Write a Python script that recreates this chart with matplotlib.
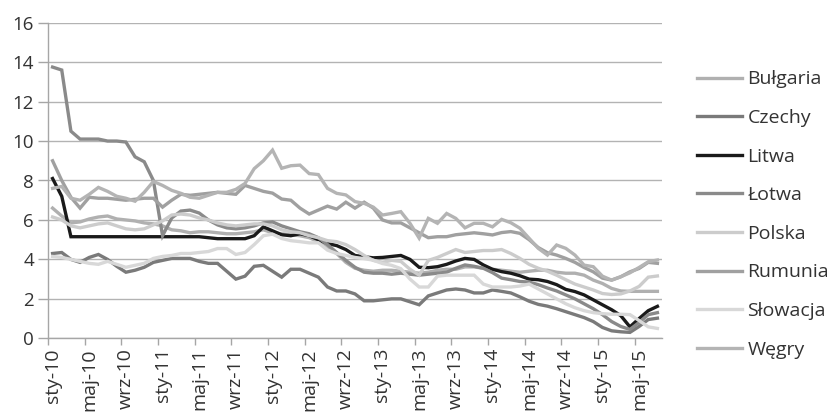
import matplotlib
matplotlib.use("Agg")
import matplotlib.pyplot as plt
from matplotlib.ticker import FixedLocator

plt.rcParams['font.family'] = ['Open Sans', 'DejaVu Sans']

# Monthly data: Jan 2010 (sty-10) .. Jul 2015 (67 months)
tick_labels = ['sty-10', 'maj-10', 'wrz-10', 'sty-11', 'maj-11', 'wrz-11',
               'sty-12', 'maj-12', 'wrz-12', 'sty-13', 'maj-13', 'wrz-13',
               'sty-14', 'maj-14', 'wrz-14', 'sty-15', 'maj-15']

bulgaria = [6.6, 6.2, 5.85, 5.9, 6.05, 6.15, 6.2, 6.05, 6.0, 5.95, 5.85, 5.8,
            5.7, 5.5, 5.45, 5.35, 5.4, 5.4, 5.35, 5.3, 5.3, 5.35, 5.4, 5.5,
            5.35, 5.3, 5.25, 5.2, 5.1, 4.9, 4.6, 4.3, 3.85, 3.55, 3.45, 3.4,
            3.45, 3.45, 3.4, 3.35, 3.3, 3.35, 3.45, 3.5, 3.5, 3.62, 3.62, 3.55,
            3.5, 3.45, 3.4, 3.35, 3.4, 3.45, 3.45, 3.35, 3.3, 3.3, 3.2, 2.95,
            2.78, 2.53, 2.4, 2.38, 2.38, 2.38, 2.38]
czechy = [4.3, 4.35, 4.0, 3.85, 4.1, 4.25, 4.0, 3.65, 3.35, 3.45, 3.6, 3.85,
          3.95, 4.05, 4.05, 4.05, 3.9, 3.8, 3.8, 3.4, 3.0, 3.15, 3.65, 3.7,
          3.4, 3.1, 3.5, 3.5, 3.3, 3.1, 2.6, 2.4, 2.4, 2.25, 1.9, 1.9,
          1.95, 2.0, 2.0, 1.85, 1.7, 2.15, 2.3, 2.45, 2.5, 2.45, 2.3, 2.3,
          2.45, 2.38, 2.3, 2.1, 1.88, 1.72, 1.63, 1.5, 1.35, 1.2, 1.05, 0.85,
          0.55, 0.38, 0.33, 0.3, 0.6, 0.95, 1.02]
litwa = [8.1, 7.2, 5.15, 5.15, 5.15, 5.15, 5.15, 5.15, 5.15, 5.15, 5.15, 5.15,
         5.15, 5.15, 5.15, 5.15, 5.15, 5.1, 5.05, 5.05, 5.05, 5.05, 5.2, 5.65,
         5.45, 5.25, 5.2, 5.3, 5.2, 5.0, 4.8, 4.7, 4.5, 4.2, 4.13, 4.08,
         4.1, 4.15, 4.2, 4.0, 3.6, 3.58, 3.63, 3.75, 3.92, 4.05, 4.0, 3.72,
         3.5, 3.38, 3.3, 3.17, 3.0, 2.97, 2.88, 2.72, 2.48, 2.37, 2.2, 1.95,
         1.7, 1.45, 1.15, 0.58, 1.0, 1.4, 1.62]
lotwa = [13.75, 13.6, 10.5, 10.1, 10.1, 10.1, 10.0, 10.0, 9.95, 9.2, 8.95, 8.0,
         5.2, 6.1, 6.45, 6.5, 6.35, 6.0, 5.75, 5.6, 5.55, 5.6, 5.7, 5.85,
         5.9, 5.7, 5.55, 5.4, 5.3, 5.1, 4.75, 4.35, 3.95, 3.6, 3.35, 3.3,
         3.3, 3.25, 3.3, 3.25, 3.2, 3.25, 3.3, 3.35, 3.55, 3.72, 3.65, 3.55,
         3.33, 3.05, 2.97, 2.88, 2.85, 2.72, 2.55, 2.4, 2.2, 2.0, 1.75, 1.5,
         1.2, 0.85, 0.6, 0.45, 0.8, 1.2, 1.3]
polska = [6.15, 6.0, 5.7, 5.6, 5.7, 5.8, 5.85, 5.7, 5.55, 5.5, 5.55, 5.75,
          5.95, 6.25, 6.3, 6.25, 6.1, 6.0, 5.85, 5.75, 5.7, 5.75, 5.8, 5.8,
          5.7, 5.5, 5.4, 5.35, 5.2, 5.1, 4.95, 4.9, 4.75, 4.5, 4.2, 3.95,
          3.85, 3.95, 3.9, 3.5, 3.2, 3.95, 4.1, 4.3, 4.5, 4.35, 4.4, 4.45,
          4.45, 4.5, 4.3, 4.05, 3.75, 3.55, 3.4, 3.2, 2.97, 2.75, 2.6, 2.45,
          2.27, 2.22, 2.25, 2.4, 2.63, 3.1, 3.16]
rumunia = [9.0, 8.0, 7.15, 6.6, 7.15, 7.1, 7.1, 7.05, 7.0, 7.05, 7.1, 7.1,
           6.65, 7.0, 7.3, 7.25, 7.3, 7.35, 7.4, 7.35, 7.3, 7.75, 7.6, 7.45,
           7.36, 7.06, 7.0, 6.6, 6.3, 6.5, 6.7, 6.55, 6.9, 6.6, 6.9, 6.6,
           6.0, 5.85, 5.85, 5.6, 5.35, 5.1, 5.15, 5.15, 5.25, 5.3, 5.35, 5.3,
           5.24, 5.36, 5.41, 5.32, 5.0, 4.6, 4.34, 4.22, 4.05, 3.85, 3.59, 3.37,
           3.05, 2.95, 3.12, 3.37, 3.54, 3.85, 3.8]
slowacja = [4.15, 4.1, 4.0, 3.9, 3.8, 3.75, 3.9, 3.75, 3.6, 3.7, 3.8, 4.05,
            4.15, 4.2, 4.3, 4.3, 4.35, 4.4, 4.55, 4.55, 4.25, 4.35, 4.75, 5.2,
            5.28, 5.06, 4.95, 4.9, 4.84, 4.84, 4.47, 4.3, 4.2, 4.1, 4.04, 3.96,
            3.79, 3.7, 3.53, 3.0, 2.6, 2.6, 3.15, 3.2, 3.2, 3.2, 3.2, 2.75,
            2.6, 2.6, 2.6, 2.65, 2.75, 2.5, 2.25, 2.0, 1.75, 1.55, 1.4, 1.3,
            1.25, 1.22, 1.22, 1.2, 0.9, 0.58, 0.5]
wegry = [7.6, 7.7, 7.1, 7.0, 7.3, 7.65, 7.45, 7.2, 7.1, 6.95, 7.4, 7.95,
         7.75, 7.5, 7.35, 7.15, 7.1, 7.25, 7.4, 7.4, 7.55, 7.85, 8.6, 9.0,
         9.54, 8.62, 8.75, 8.78, 8.35, 8.3, 7.6, 7.35, 7.27, 6.93, 6.84, 6.65,
         6.25, 6.33, 6.42, 5.83, 5.08, 6.08, 5.83, 6.33, 6.08, 5.6, 5.83, 5.83,
         5.65, 6.03, 5.86, 5.58, 5.07, 4.56, 4.22, 4.73, 4.56, 4.22, 3.71, 3.63,
         3.15, 2.95, 3.12, 3.32, 3.59, 3.88, 3.97]

series = [
    ('Bułgaria', bulgaria, '#b0b0b0'),
    ('Czechy', czechy, '#7a7a7a'),
    ('Litwa', litwa, '#1a1a1a'),
    ('Łotwa', lotwa, '#8a8a8a'),
    ('Polska', polska, '#cccccc'),
    ('Rumunia', rumunia, '#a0a0a0'),
    ('Słowacja', slowacja, '#d8d8d8'),
    ('Węgry', wegry, '#b4b4b4'),
]

fig = plt.figure(figsize=(8.31, 4.15), dpi=100)
ax = fig.add_axes([48/831, 1-338.3/415, (662-48)/831, (338.3-22.7)/415])

n = len(litwa)
x = list(range(n))
for name, vals, col in series:
    ax.plot(x, vals, color=col, lw=2.4, label=name, solid_joinstyle='miter')

ax.set_xlim(-0.5, n - 0.5)
ax.set_ylim(0, 16)
ax.set_yticks(range(0, 17, 2))
ax.yaxis.grid(True, color='#b3b3b3', lw=1.0)
ax.set_axisbelow(True)

label_pos = list(range(0, n, 4))
ax.set_xticks(label_pos)
ax.set_xticklabels(tick_labels, rotation=90)
ax.tick_params(axis='x', which='major', length=0, pad=7, labelsize=14, labelcolor='#333333')
ax.xaxis.set_minor_locator(FixedLocator([p - 0.5 for p in label_pos]))
ax.tick_params(axis='x', which='minor', length=5, width=1, color='#a6a6a6', direction='out')
ax.tick_params(axis='y', length=7, width=1, color='#a6a6a6', labelsize=13.5, labelcolor='#333333', pad=3)

for s in ['top', 'right']:
    ax.spines[s].set_visible(False)
for s in ['left', 'bottom']:
    ax.spines[s].set_color('#a6a6a6')
    ax.spines[s].set_linewidth(1.0)

leg = fig.legend(loc='center left', bbox_to_anchor=(697/831, 1 - 214.5/415), frameon=False,
                 fontsize=14, handlelength=2.3, handletextpad=0.3,
                 labelspacing=1.06, borderaxespad=0, borderpad=0)
for t in leg.get_texts():
    t.set_color('#333333')

fig.savefig('out.png', dpi=100)
